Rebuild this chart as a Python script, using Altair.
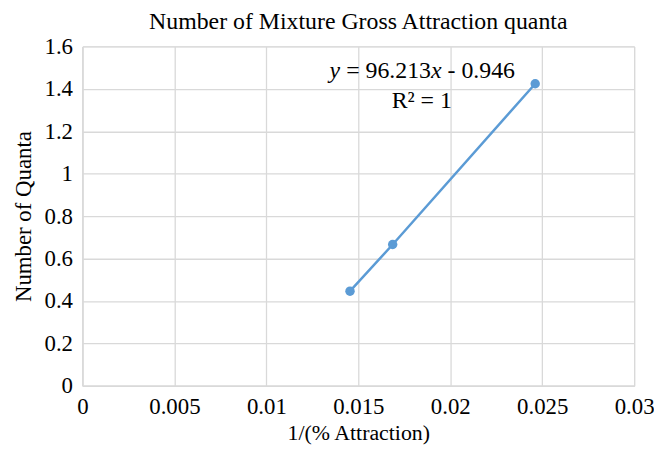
import altair as alt
import pandas as pd

x_vals = [0.01455, 0.01687, 0.02462]
y_vals = [0.446, 0.666, 1.424]

title_text = "Number of Mixture Gross Attraction quanta"
x_title = "1/(% Attraction)"
y_title = "Number of Quanta"

eq_parts = ["y", "= 96.213", "x", "- 0.946"]
eq_italic = ["italic", "normal", "italic", "normal"]
eq_dx = [0, 16.7, 102.2, 118.9]
eq_x = 0.01344
eq_y = 1.45
r2_text = "R² = 1"
r2_x = 0.01845
r2_y = 1.31

FONT = "Liberation Serif, Times New Roman, serif"
BLUE = "#5b9bd5"
GRID = "#d9d9d9"

df = pd.DataFrame({"x": x_vals, "y": y_vals})

xs = alt.Scale(domain=[0, 0.03], nice=False, zero=True)
ys = alt.Scale(domain=[0, 1.6], nice=False)

xax = alt.Axis(values=[0, 0.005, 0.01, 0.015, 0.02, 0.025, 0.03], labelExpr="datum.value == 0 ? '0' : format(datum.value, '~g')",
               title=x_title, grid=True, gridColor=GRID, gridWidth=1.3, ticks=False,
               domainColor=GRID, domainWidth=1.3, labelFont=FONT, labelFontSize=23, labelColor="#000",
               labelPadding=10, titleFont=FONT, titleFontSize=22, titleFontWeight="normal",
               titleColor="#000", titlePadding=4, labelFlush=False, labelOverlap=False)
yax = alt.Axis(values=[0, 0.2, 0.4, 0.6, 0.8, 1.0, 1.2, 1.4, 1.6], labelExpr="format(datum.value, '~g')",
               title=y_title, grid=True, gridColor=GRID, gridWidth=1.3, ticks=False,
               domainColor=GRID, domainWidth=1.3, labelFont=FONT, labelFontSize=23, labelColor="#000",
               labelPadding=10, titleFont=FONT, titleFontSize=23, titleFontWeight="normal",
               titleColor="#000", titlePadding=9, labelFlush=False, labelOverlap=False)

base = alt.Chart(df)
line = base.mark_line(color=BLUE, strokeWidth=2.5).encode(
    x=alt.X("x:Q", scale=xs, axis=xax), y=alt.Y("y:Q", scale=ys, axis=yax))
pts = base.mark_point(color=BLUE, filled=True, opacity=1, size=90).encode(x="x:Q", y="y:Q")

layers = [line, pts]
for part, sty, dx in zip(eq_parts, eq_italic, eq_dx):
    t = alt.Chart(pd.DataFrame({"x": [eq_x], "y": [eq_y], "t": [part]})).mark_text(
        font=FONT, fontSize=24, fontStyle=sty, align="left", baseline="alphabetic", dx=dx, color="#000"
    ).encode(x="x:Q", y="y:Q", text="t:N")
    layers.append(t)
r2 = alt.Chart(pd.DataFrame({"x": [r2_x], "y": [r2_y], "t": [r2_text]})).mark_text(
    font=FONT, fontSize=24, align="center", baseline="alphabetic", color="#000"
).encode(x="x:Q", y="y:Q", text="t:N")
layers.append(r2)

chart = alt.layer(*layers).properties(
    width=556, height=342,
    autosize="none",
    padding={"left": 75, "top": 37, "right": 20, "bottom": 59},
    title=alt.TitleParams(title_text, font=FONT, fontSize=24, fontWeight="normal", color="#000", offset=2, anchor="middle"),
).configure_view(stroke=None).configure(background="white")

chart.save("out.html", embed_options={"renderer": "svg", "actions": False})
